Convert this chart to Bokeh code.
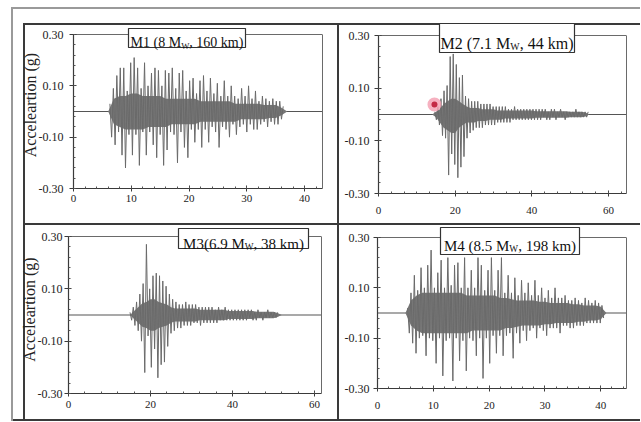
import numpy as np
from bokeh.plotting import figure
from bokeh.models import (Label, Span, FixedTicker, PrintfTickFormatter, Range1d,
                          BoxAnnotation, LinearAxis)
from bokeh.layouts import column, row
from bokeh.embed import file_html
from bokeh.resources import INLINE

# ---------------- data (acceleration in hundredths of g) ----------------
# individual peaks of each record, uniform sampling from t0 with step dt
m1_t0, m1_dt = 6.3, 0.3
m1_acc = [3, -10, 9, -13, 14, -8, 17, -17, 17, -22,
          8, -9, 19, -17, 21, -9, 17, -21, 9, -8,
          19, -17, 10, -8, 15, -13, 17, -18, 16, -9,
          10, -21, 16, -15, 15, -8, 17, -9, 9, -20,
          15, -8, 16, -14, 8, -18, 12, -7, 13, -12,
          7, -7, 12, -14, 14, -7, 8, -12, 13, -6,
          7, -8, 11, -14, 6, -6, 12, -7, 6, -10,
          10, -5, 6, -9, 5, -6, 9, -5, 6, -8,
          10, -5, 5, -7, 8, -7, 4, -5, 6, -4,
          5, -6, 4, -4, 5, -5, 4, -5, 4, -3, 2]

m2_t0, m2_dt = 14.7, 0.4
m2_acc = [1, -2, 3, -4, 6, -8, 9, -9, 11, -23,
          22, -15, 23, -19, 19, -24, 14, -20, 15, -16,
          7, -9, 6, -7, 5, -6, 5, -5, 5, -5,
          4, -5, 4, -4, 4, -4, 4, -4, 3, -4,
          3, -3, 3, -3, 3, -3, 3, -3, 2, -3,
          2, -2, 3, -2, 2, -2, 2, -2, 2, -2,
          2, -2, 2, -2, 2, -2, 2, -2, 2, -2,
          2, -1, 2, -2, 1, -2, 2, -1, 2, -2,
          1, -1, 2, -1, 1, -2, 1, -1, 1, -1,
          1, -1, 2, -1, 1, -1, 1, -1, 1, -1, 1]

m3_t0, m3_dt = 15.0, 0.4
m3_acc = [1, -2, 3, -4, 5, -6, 8, -10, 12, -22,
          27, -8, 10, -20, 15, -13, 16, -24, 15, -19,
          13, -18, 11, -12, 8, -7, 6, -6, 5, -5,
          4, -5, 4, -4, 5, -4, 4, -4, 4, -3,
          4, -3, 3, -4, 3, -3, 3, -3, 3, -3,
          3, -3, 2, -3, 3, -2, 2, -2, 3, -2,
          2, -2, 2, -2, 2, -2, 2, -2, 2, -2,
          2, -2, 2, -1, 2, -2, 1, -2, 2, -1,
          1, -2, 1, -1, 2, -1, 1, -1, 1, -1, 1]

m4_t0, m4_dt = 5.4, 0.3
m4_acc = [2, -8, 8, -12, 15, -16, 9, -10, 18, -9,
          10, -17, 19, -10, 25, -11, 10, -20, 16, -10,
          21, -25, 10, -11, 22, -10, 11, -27, 19, -10,
          20, -19, 10, -11, 22, -23, 10, -10, 17, -11,
          10, -17, 22, -10, 19, -26, 9, -10, 17, -20,
          22, -9, 9, -16, 17, -9, 22, -17, 8, -9,
          15, -8, 8, -18, 14, -8, 7, -12, 13, -7,
          8, -11, 12, -7, 7, -6, 13, -10, 7, -6,
          10, -7, 6, -9, 9, -6, 6, -6, 10, -6,
          6, -8, 6, -5, 7, -5, 5, -6, 5, -6,
          6, -5, 5, -5, 4, -5, 6, -4, 5, -4,
          4, -4, 5, -4, 4, -4, 3, -2]

# dense oscillation band (upper / lower extent), one reading per second from env_t0
m1_env_t0 = 6
m1_env_up = [0, 5, 6, 6, 7, 7, 6, 6, 6, 6, 5, 5, 5, 5, 5, 5, 4, 4, 4, 4,
             4, 4, 3, 3, 3, 3, 3, 2.5, 2.5, 2.5, 1.5, 0]
m1_env_lo = [0, -5, -6, -7, -7, -7, -7, -6, -6, -6, -6, -5, -5, -5, -5, -5, -4, -4, -4, -4,
             -4, -4, -4, -3, -3, -3, -3, -3, -2.5, -2.5, -1.5, 0]

m2_env_t0 = 14
m2_env_up = [0, 1, 2, 4, 5, 6, 6, 5, 4, 3, 2.5, 2.5, 2.5, 2, 2, 2, 2, 1.5, 1.5, 1.5,
             1.5, 1.5, 1.5, 1.5, 1.5, 1.5, 1.5, 1.2, 1.2, 1.2, 1.2, 1.2, 1.2, 1.2, 1.2, 1.2, 1, 1, 1, 1,
             0.8, 0]
m2_env_lo = [0, -1, -3, -5, -6, -7, -7, -5, -4, -3, -3, -3, -2.5, -2.5, -2.5, -2, -2, -2, -2, -1.5,
             -1.5, -1.5, -1.5, -1.5, -1.5, -1.5, -1.5, -1.2, -1.2, -1.2, -1.2, -1.2, -1.2, -1.2, -1.2, -1.2, -1, -1, -1, -1,
             -0.8, 0]

m3_env_t0 = 15
m3_env_up = [0, 1.5, 3, 4.5, 5, 6, 6, 5, 4.5, 4, 3, 2.5, 2.5, 2.5, 2.5, 2.5, 2.5, 2, 2, 2,
             2, 2, 2, 2, 1.5, 1.5, 1.5, 1.5, 1.5, 1.5, 1.5, 1.2, 1.2, 1.2, 1.2, 1.2, 0.8, 0]
m3_env_lo = [0, -1.5, -3, -4.5, -5, -6, -6, -5, -4.5, -4, -3, -2.5, -2.5, -2.5, -2.5, -2.5, -2.5, -2, -2, -2,
             -2, -2, -2, -2, -1.5, -1.5, -1.5, -1.5, -1.5, -1.5, -1.5, -1.2, -1.2, -1.2, -1.2, -1.2, -0.8, 0]

m4_env_t0 = 5
m4_env_up = [0, 5, 7, 8, 8, 8, 8, 8, 8, 8, 8, 7, 7, 7, 7, 7, 7, 6, 6, 5.5,
             5, 5, 5, 5, 4.5, 4.5, 4, 4, 4, 4, 3.5, 3.5, 3, 3, 3, 2.5, 0]
m4_env_lo = [0, -5, -7, -8, -8, -8, -8, -8, -8, -8, -8, -8, -7, -7, -7, -7, -7, -7, -6, -6,
             -5.5, -5, -5, -5, -5, -4.5, -4.5, -4, -4, -4, -4, -3.5, -3.5, -3, -3, -2.5, 0]

panel_t0 = [m1_t0, m2_t0, m3_t0, m4_t0]
panel_dt = [m1_dt, m2_dt, m3_dt, m4_dt]
panel_acc = [m1_acc, m2_acc, m3_acc, m4_acc]
panel_env_t0 = [m1_env_t0, m2_env_t0, m3_env_t0, m4_env_t0]
panel_env_up = [m1_env_up, m2_env_up, m3_env_up, m4_env_up]
panel_env_lo = [m1_env_lo, m2_env_lo, m3_env_lo, m4_env_lo]

titles = [("M1 (8 M", "W", ", 160 km)"),
          ("M2 (7.1 M", "W", ", 44 km)"),
          ("M3(6.9 M", "W", ", 38 km)"),
          ("M4 (8.5 M", "W", ", 198 km)")]

x_max = [43.1, 64.7, 61.7, 44.6]
x_major = [[0, 10, 20, 30, 40], [0, 20, 40, 60], [0, 20, 40, 60], [0, 10, 20, 30, 40]]
y_major = [-0.30, -0.10, 0.10, 0.30]
y_min, y_max = -0.30, 0.30
y_label = "Acceleartion (g)"

marker_x = [14.6]
marker_y = [0.038]

# ---------------- styling ----------------
FONT = "Liberation Serif"
TRACE = "#6a6a6a"
BAND = "#777777"
DARK = "#3a3a3a"
LIGHT = "#9a9a9a"
FRAME = "#6a6a6a"

CHAR_W = {' ': 250, '(': 333, ')': 333, ',': 250, '.': 250, 'M': 889, 'W': 944,
          'k': 500, 'm': 778}
for d in "0123456789":
    CHAR_W[d] = 500


def text_w(s, fs):
    return sum(CHAR_W.get(c, 500) for c in s) / 1000.0 * fs


def css_lines(segs):
    imgs, sizes, poss = [], [], []
    for (x, y, w, h, c) in segs:
        imgs.append(f"linear-gradient({c},{c})")
        sizes.append(f"{w}px {h}px")
        poss.append(f"{x}px {y}px")
    return {"background-image": ", ".join(imgs),
            "background-size": ", ".join(sizes),
            "background-position": ", ".join(poss),
            "background-repeat": "no-repeat"}


W1, W2, H1, H2 = 337, 303, 223, 198

# t = px from figure top to the 0.30 line; tb = actual top border (same within a row)
# box = (left, right, top, bottom) in px relative to the data frame's top-left corner
cfg = [
    dict(w=W1, h=H1, l=73, r=15, t=34, tb=21, b=35, xminor=2.0, xstand=3, ystand=6,
         ylabel=True, lstand=-3, box=(55, 172, -6, 13), fs=14,
         segs=[(11, 7, 2, H1 - 7, LIGHT), (11, 7, W1 - 11, 2, LIGHT),
               (23, 23, 2, H1 - 23, DARK), (23, 23, W1 - 23, 2, DARK)]),
    dict(w=W2, h=H1, l=41, r=14, t=35, tb=21, b=30, xminor=20 / 6, xstand=10, ystand=5,
         ylabel=False, lstand=0, box=(61, 196, -12, 17), fs=16,
         segs=[(0, 7, W2, 2, LIGHT), (0, 23, W2, 2, DARK), (0, 23, 2, H1 - 23, DARK)]),
    dict(w=W1, h=H2, l=68, r=16, t=13, tb=2, b=28, xminor=4.0, xstand=4, ystand=2,
         ylabel=True, lstand=-3, box=(110, 240, -8, 12), fs=15,
         segs=[(11, 0, 2, H2, LIGHT), (23, 0, 2, H2, DARK), (23, 0, W1 - 23, 2, DARK),
               (11, H2 - 2, W1 - 11, 2, DARK)]),
    dict(w=W2, h=H2, l=40, r=14, t=14, tb=2, b=33, xminor=2.0, xstand=10, ystand=4,
         ylabel=False, lstand=0, box=(63, 202, -10, 17), fs=15,
         segs=[(0, 0, W2, 2, DARK), (0, 0, 2, H2, DARK), (0, H2 - 2, W2, 2, DARK)]),
]

y_minor = [round(v, 4) for v in np.arange(y_min, y_max + 1e-4, 0.04)]

figs = []
for k in range(4):
    c = cfg[k]
    bl, br, bt, bb = c["box"]
    fw = c["w"] - c["l"] - c["r"]
    fh0 = c["h"] - c["t"] - c["b"]
    xpp = x_max[k] / fw
    ypp = (y_max - y_min) / fh0
    ext = c["t"] - c["tb"]          # frame grows upward so the title box is not clipped
    y_top = y_max + ext * ypp

    p = figure(width=c["w"], height=c["h"], output_backend="svg", toolbar_location=None,
               x_range=Range1d(0, x_max[k]), y_range=Range1d(y_min, y_top))
    p.frame_align = False
    p.min_border_left = c["l"]
    p.min_border_right = c["r"]
    p.min_border_top = c["tb"]
    p.min_border_bottom = c["b"]
    p.border_fill_color = None
    p.background_fill_color = None
    p.outline_line_color = None
    p.xgrid.visible = False
    p.ygrid.visible = False
    p.styles = css_lines(c["segs"])

    xminor = [round(v, 4) for v in np.arange(0, x_max[k], c["xminor"])]
    p.xaxis.ticker = FixedTicker(ticks=x_major[k], minor_ticks=xminor)
    p.yaxis.ticker = FixedTicker(ticks=y_major, minor_ticks=y_minor)
    p.yaxis.formatter = PrintfTickFormatter(format="%.2f")
    p.yaxis.bounds = (y_min, y_max)

    for ax in (p.xaxis[0], p.yaxis[0]):
        ax.axis_line_color = DARK
        ax.axis_line_width = 1.2
        ax.major_tick_line_color = DARK
        ax.minor_tick_line_color = "#555555"
        ax.major_label_text_font = FONT
        ax.major_label_text_color = "#222222"
        ax.major_label_text_font_style = "normal"
    p.xaxis.major_tick_in = 3
    p.xaxis.major_tick_out = 3
    p.xaxis.minor_tick_in = 2
    p.xaxis.minor_tick_out = 0
    p.xaxis.major_label_standoff = c["xstand"]
    p.xaxis.major_label_text_font_size = "11px"
    p.yaxis.major_tick_in = 3
    p.yaxis.major_tick_out = 4
    p.yaxis.minor_tick_in = 2
    p.yaxis.minor_tick_out = 0
    p.yaxis.major_label_standoff = c["ystand"]
    p.yaxis.major_label_text_font_size = "12px"
    if c["ylabel"]:
        p.yaxis.axis_label = y_label
        p.yaxis.axis_label_text_font = FONT
        p.yaxis.axis_label_text_font_size = "16px"
        p.yaxis.axis_label_text_font_style = "normal"
        p.yaxis.axis_label_text_color = "#222222"
        p.yaxis.axis_label_standoff = c["lstand"]

    # right edge of the plotting box
    right_ax = LinearAxis(ticker=FixedTicker(ticks=[]), bounds=(y_min, y_max),
                          axis_line_color=FRAME, axis_line_width=1,
                          major_tick_line_color=None, minor_tick_line_color=None,
                          major_tick_out=0, minor_tick_out=0, major_label_standoff=0,
                          major_label_text_font_size="1px")
    p.add_layout(right_ax, "right")
    # top edge of the plotting box
    p.add_layout(Span(location=y_max, dimension="width", line_color=FRAME, line_width=1,
                      level="underlay"))

    p.add_layout(Span(location=0, dimension="width", line_color="#555555", line_width=1.2,
                      level="underlay"))

    up = np.array(panel_env_up[k], dtype=float) / 100.0
    lo = np.array(panel_env_lo[k], dtype=float) / 100.0
    te = panel_env_t0[k] + np.arange(len(up))
    p.varea(x=te, y1=lo, y2=up, fill_color=BAND, fill_alpha=1.0)

    acc = np.array(panel_acc[k], dtype=float) / 100.0
    t = panel_t0[k] + panel_dt[k] * np.arange(len(acc))
    p.line(t, acc, line_color=TRACE, line_width=1)

    if k == 1:
        p.scatter(marker_x, marker_y, size=14, fill_color="#f5a3b5", fill_alpha=0.85,
                  line_color=None)
        p.scatter(marker_x, marker_y, size=6, fill_color="#c42a45", line_color=None)

    # title box
    p.add_layout(BoxAnnotation(left=bl * xpp, right=br * xpp,
                               top=y_max - bt * ypp, bottom=y_max - bb * ypp,
                               fill_color="white", fill_alpha=1.0,
                               line_color="#333333", line_width=1.2, line_alpha=1.0))
    bx = (bl + br) / 2.0
    by = (bt + bb) / 2.0
    fs = c["fs"]
    a, sub, b = titles[k]
    sfs = 0.62 * fs
    total = text_w(a, fs) + text_w(sub, sfs) + text_w(b, fs)
    x0 = bx - total / 2.0
    base = -by - 0.34 * fs
    pieces = [(a, fs, x0, base),
              (sub, sfs, x0 + text_w(a, fs), base - 0.2 * fs),
              (b, fs, x0 + text_w(a, fs) + text_w(sub, sfs), base)]
    for txt, f, xo, yo in pieces:
        p.add_layout(Label(x=0, y=y_max, x_offset=xo, y_offset=yo, text=txt,
                           text_font=FONT, text_font_size=f"{f:.1f}px",
                           text_color="#111111", text_align="left",
                           text_baseline="alphabetic"))
    figs.append(p)

layout = column(row(figs[0], figs[1]), row(figs[2], figs[3]))

open("out.html", "w").write(file_html(layout, INLINE))
